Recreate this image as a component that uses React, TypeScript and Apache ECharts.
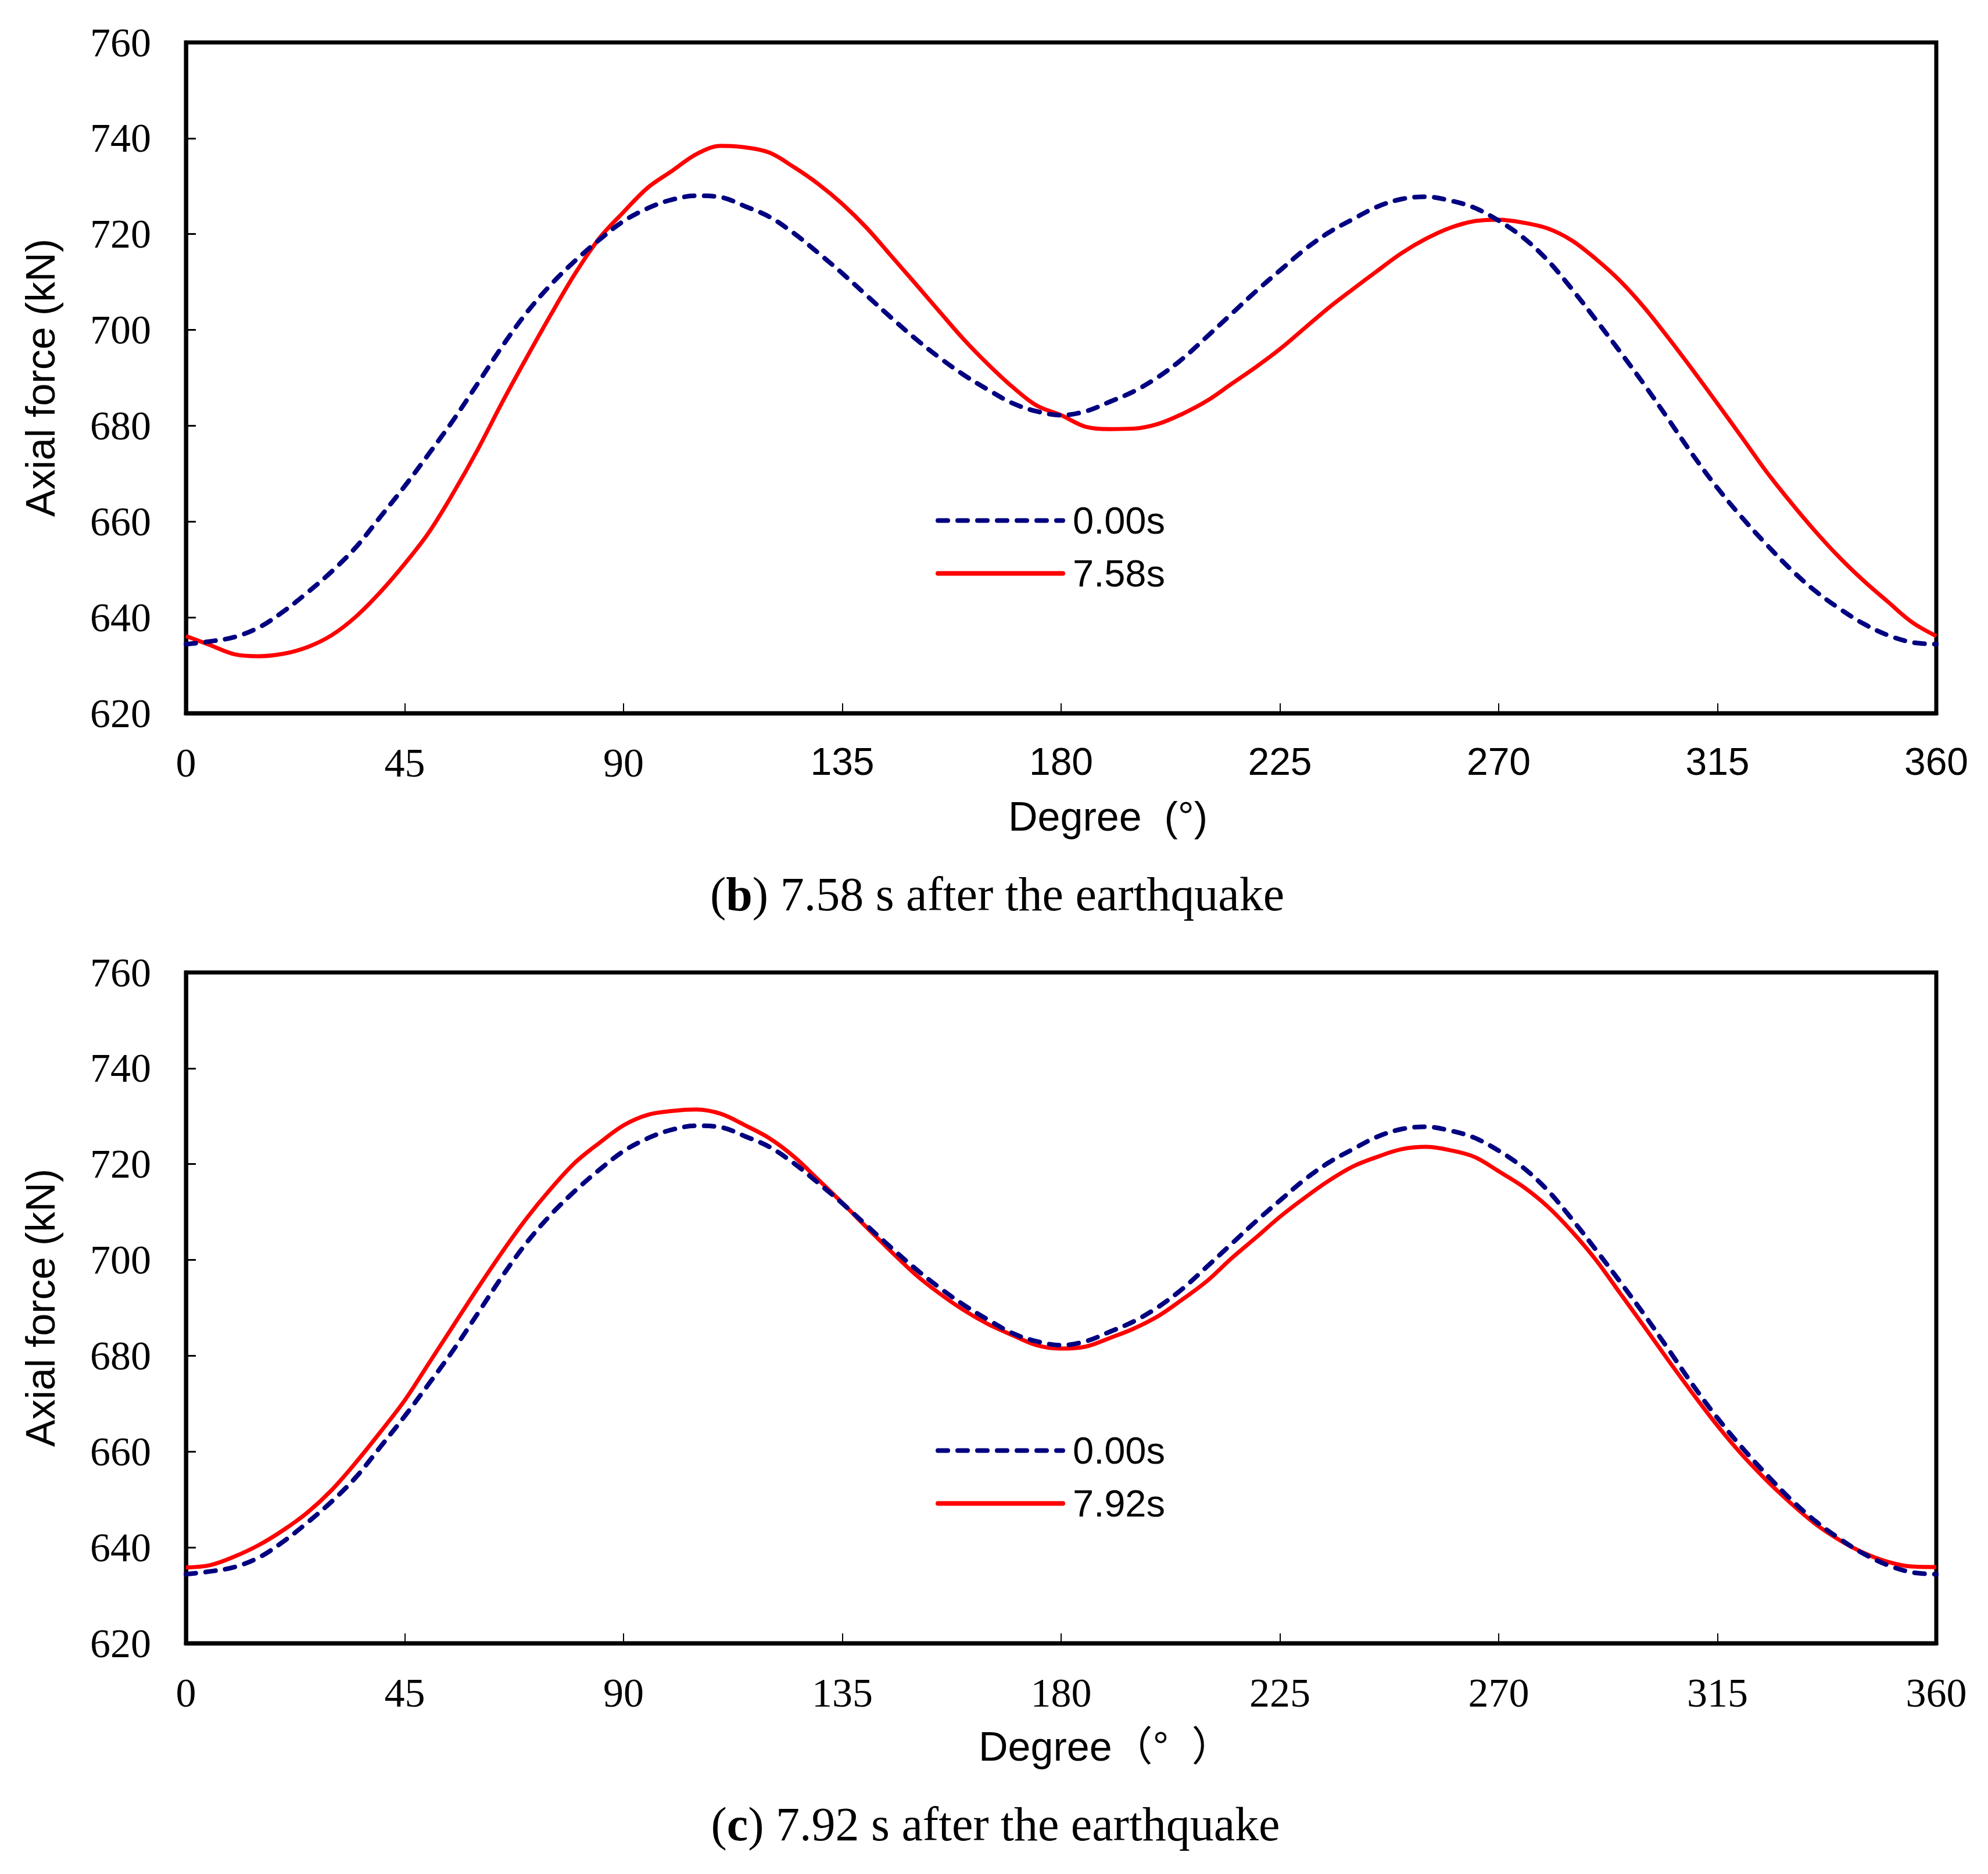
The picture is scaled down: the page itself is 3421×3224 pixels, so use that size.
import React, { useEffect, useRef } from 'react'
import * as echarts from 'echarts'

// sampling positions along the ring (degrees)
const degrees = [
  0, 5, 10, 15, 20, 25, 30, 35, 40, 45,
  50, 55, 60, 65, 70, 75, 80, 85, 90, 95,
  100, 105, 110, 115, 120, 125, 130, 135, 140, 145,
  150, 155, 160, 165, 170, 175, 180, 185, 190, 195,
  200, 205, 210, 215, 220, 225, 230, 235, 240, 245,
  250, 255, 260, 265, 270, 275, 280, 285, 290, 295,
  300, 305, 310, 315, 320, 325, 330, 335, 340, 345,
  350, 355, 360,
]

// axial force (kN) before the earthquake
const force000 = [
  634.4, 635.0, 635.9, 637.9, 641.2, 645.2, 649.6, 654.7, 661.0, 667.4,
  674.2, 681.2, 688.8, 696.5, 703.5, 709.4, 714.4, 718.8, 722.7, 725.4,
  727.2, 728.0, 727.7, 725.8, 723.6, 720.2, 716.1, 711.8, 707.2, 702.6,
  698.2, 694.2, 690.6, 687.5, 684.7, 683.0, 682.2, 683.0, 685.0, 687.2,
  690.2, 694.0, 698.6, 703.3, 708.0, 712.4, 716.7, 720.3, 723.1, 725.7,
  727.3, 727.8, 727.0, 725.5, 722.8, 719.3, 714.6, 708.6, 702.1, 695.4,
  688.5, 681.2, 673.8, 667.0, 660.9, 655.3, 650.1, 645.6, 641.9, 638.7,
  636.3, 634.8, 634.4,
]

// 7.58 s after the earthquake
const force758 = [
  636.1, 634.2, 632.3, 631.9, 632.4, 633.8, 636.3, 640.2, 645.3, 651.2,
  657.8, 666.0, 675.0, 684.8, 694.1, 703.1, 711.7, 719.1, 724.6, 729.7,
  733.2, 736.7, 738.4, 738.1, 737.0, 734.0, 730.5, 726.3, 721.3, 715.5,
  709.7, 703.8, 698.0, 692.8, 688.1, 684.2, 682.2, 679.8, 679.3, 679.4,
  680.4, 682.5, 685.2, 688.7, 692.2, 696.0, 700.3, 704.6, 708.5, 712.3,
  716.0, 719.0, 721.3, 722.7, 723.0, 722.4, 721.2, 718.7, 714.8, 710.2,
  704.6, 698.2, 691.5, 684.6, 677.6, 670.5, 664.1, 658.1, 652.6, 647.7,
  643.3, 639.0, 636.1,
]

// 7.92 s after the earthquake
const force792 = [
  635.8, 636.3, 638.1, 640.5, 643.6, 647.3, 652.0, 657.8, 664.1, 670.7,
  678.5, 686.3, 694.1, 701.6, 708.6, 714.8, 720.3, 724.4, 728.1, 730.3,
  731.1, 731.4, 730.5, 728.1, 725.4, 721.6, 716.8, 711.9, 706.8, 701.8,
  697.0, 693.0, 689.5, 686.6, 684.3, 682.2, 681.5, 681.9, 683.7, 685.7,
  688.3, 691.8, 695.6, 700.3, 704.6, 709.0, 712.9, 716.5, 719.5, 721.5,
  723.1, 723.6, 722.9, 721.5, 718.5, 715.3, 711.2, 706.0, 700.0, 693.0,
  686.0, 678.9, 672.0, 665.4, 659.4, 654.1, 649.3, 645.0, 641.6, 638.9,
  637.0, 636.0, 635.9,
]

const xTicks = [0, 45, 90, 135, 180, 225, 270, 315, 360]
const yTicks = [620, 640, 660, 680, 700, 720, 740, 760]

const SERIF = '"Liberation Serif", "Times New Roman", serif'
const SANS = '"Liberation Sans", Arial, sans-serif'
const NAVY = '#000080'
const RED = '#ff0000'

const pairs = (ys: number[]) => degrees.map((d, i) => [d, ys[i]])

const App = () => {
  const chartRef = useRef<HTMLDivElement>(null)

  useEffect(() => {
    document.body.style.margin = '0'
    if (!chartRef.current) return
    const chart = echarts.init(chartRef.current, undefined, { renderer: 'svg' })

    const grids = [
      { left: 320, top: 73, width: 3012, height: 1154 },
      { left: 320, top: 1673, width: 3012, height: 1154 },
    ]

    const xAxis = (gridIndex: number, mixedFonts: boolean) => ({
      type: 'value',
      gridIndex,
      min: xTicks[0],
      max: xTicks[xTicks.length - 1],
      interval: xTicks[1] - xTicks[0],
      axisLine: { show: true, lineStyle: { color: '#000', width: 7 } },
      axisTick: { show: true, inside: true, length: 17, lineStyle: { color: '#000', width: 2 } },
      splitLine: { show: false },
      axisLabel: {
        margin: 50,
        color: '#000',
        formatter: (v: number) => (mixedFonts && v > 90 ? `{s|${v}}` : `{t|${v}}`),
        rich: {
          t: { fontFamily: SERIF, fontSize: 70, color: '#000' },
          s: { fontFamily: SANS, fontSize: 66, color: '#000' },
        },
      },
    })

    const yAxis = (gridIndex: number) => ({
      type: 'value',
      gridIndex,
      min: yTicks[0],
      max: yTicks[yTicks.length - 1],
      interval: yTicks[1] - yTicks[0],
      name: 'Axial force (kN)',
      nameLocation: 'middle',
      nameGap: 215,
      nameRotate: 90,
      nameTextStyle: { fontFamily: SANS, fontSize: 70, color: '#000' },
      axisLine: { show: true, lineStyle: { color: '#000', width: 7 } },
      axisTick: { show: true, inside: true, length: 17, lineStyle: { color: '#000', width: 3 } },
      splitLine: { show: false },
      axisLabel: { margin: 60, fontFamily: SERIF, fontSize: 70, color: '#000' },
    })

    const dashed = (idx: number) => ({
      name: '0.00s',
      type: 'line',
      xAxisIndex: idx,
      yAxisIndex: idx,
      data: pairs(force000),
      smooth: 0.35,
      symbol: 'none',
      lineStyle: { color: NAVY, width: 8, type: [17, 17], cap: 'round' },
      itemStyle: { color: NAVY },
      z: 3,
    })

    const solid = (idx: number, name: string, ys: number[]) => ({
      name,
      type: 'line',
      xAxisIndex: idx,
      yAxisIndex: idx,
      data: pairs(ys),
      smooth: 0.35,
      symbol: 'none',
      lineStyle: { color: RED, width: 7 },
      itemStyle: { color: RED },
      z: 2,
    })

    const legend = (top: number, names: string[]) => ({
      left: 1605,
      top,
      orient: 'vertical',
      itemWidth: 215,
      itemHeight: 20,
      itemGap: 26,
      selectedMode: false,
      data: names,
      itemStyle: { opacity: 0 },
      lineStyle: { width: 8, cap: 'round' },
      textStyle: { fontFamily: SANS, fontSize: 65, color: '#000', padding: [0, 0, 0, 12] },
    })

    const option = {
      animation: false,
      backgroundColor: '#fff',
      grid: grids.map((g) => ({ ...g, show: true, borderColor: '#000', borderWidth: 7 })),
      xAxis: [xAxis(0, true), xAxis(1, false)],
      yAxis: [yAxis(0), yAxis(1)],
      legend: [legend(858, ['0.00s', '7.58s']), legend(2458, ['0.00s', '7.92s'])],
      series: [dashed(0), solid(0, '7.58s', force758), dashed(1), solid(1, '7.92s', force792)],
      graphic: [
        {
          type: 'text',
          x: 1735,
          y: 1405,
          style: { text: 'Degree  (°)', fontFamily: SANS, fontSize: 70, fill: '#000', textAlign: 'left', textVerticalAlign: 'middle' },
        },
        {
          type: 'text',
          x: 1684,
          y: 3005,
          style: {
            text: 'Degree（°  ）',
            fontFamily: '"Liberation Sans", "Noto Sans CJK SC", sans-serif',
            fontSize: 70,
            fill: '#000',
            textAlign: 'left',
            textVerticalAlign: 'middle',
          },
        },
        {
          type: 'text',
          x: 1716,
          y: 1538,
          style: {
            text: '({bb|b}) 7.58 s after the earthquake',
            fontFamily: SERIF,
            fontSize: 82,
            fill: '#000',
            textAlign: 'center',
            textVerticalAlign: 'middle',
            rich: { bb: { fontFamily: SERIF, fontSize: 82, fontWeight: 'bold', fill: '#000' } },
          },
        },
        {
          type: 'text',
          x: 1713,
          y: 3138,
          style: {
            text: '({bb|c}) 7.92 s after the earthquake',
            fontFamily: SERIF,
            fontSize: 82,
            fill: '#000',
            textAlign: 'center',
            textVerticalAlign: 'middle',
            rich: { bb: { fontFamily: SERIF, fontSize: 82, fontWeight: 'bold', fill: '#000' } },
          },
        },
      ],
    }

    chart.setOption(option)
    return () => {
      chart.dispose()
    }
  }, [])

  return <div ref={chartRef} style={{ width: 3421, height: 3224 }} />
}

export default App
